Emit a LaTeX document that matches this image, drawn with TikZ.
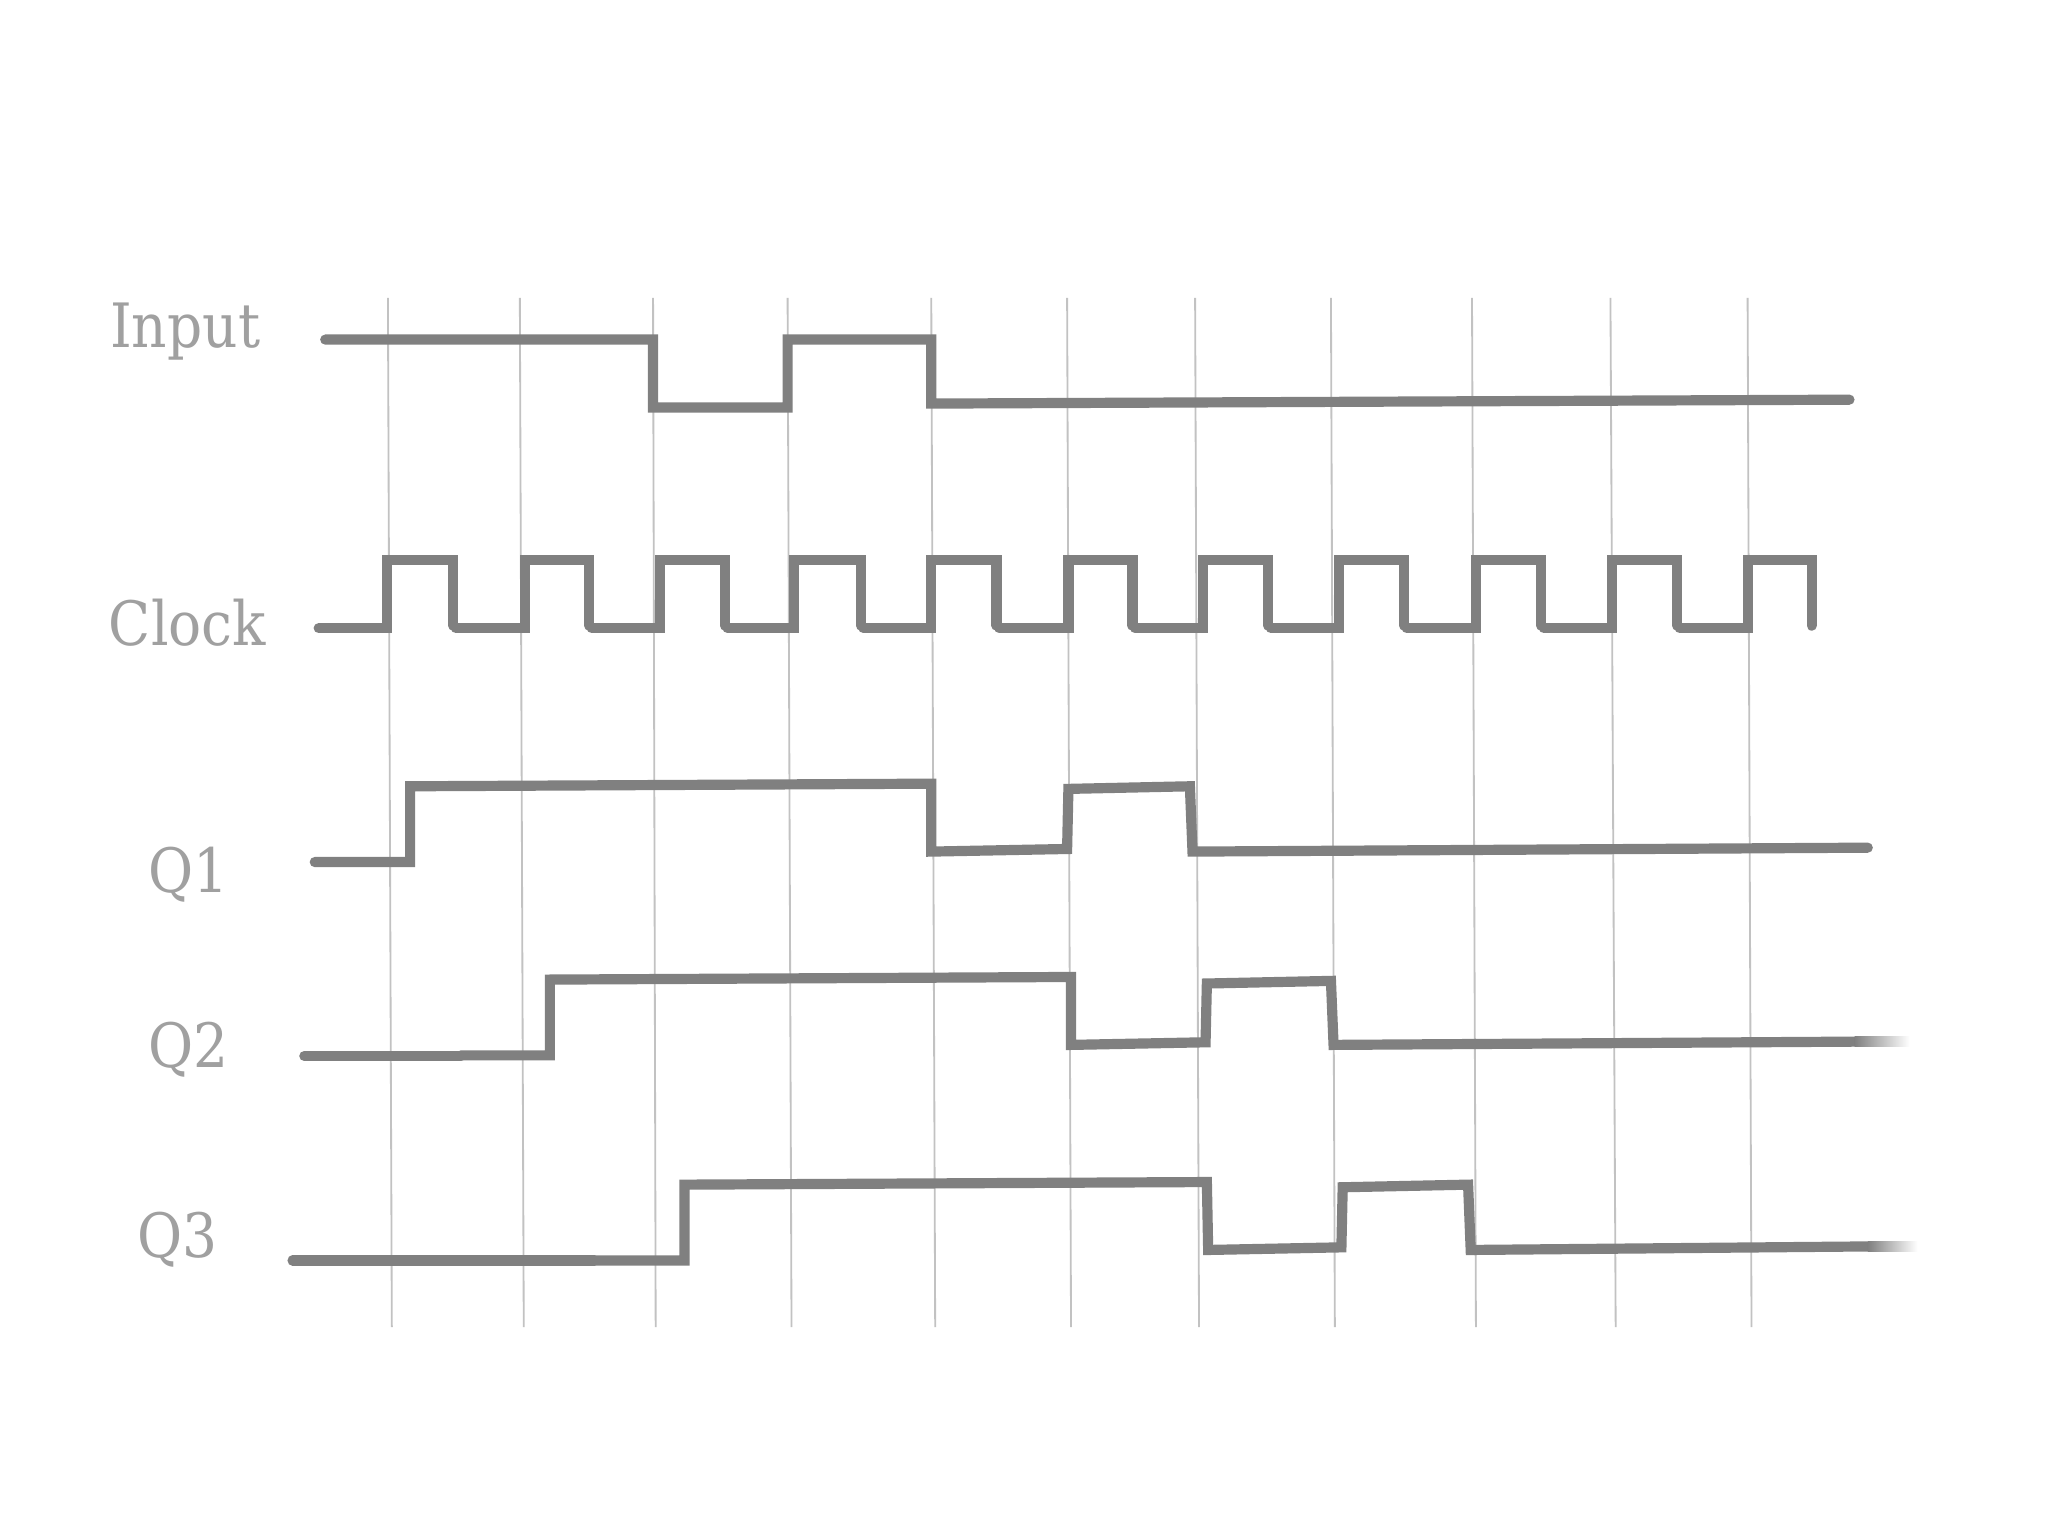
\documentclass[tikz,border=0pt]{standalone}
\usepackage{fontspec}
\setmainfont{DejaVu Serif}[FakeStretch=0.9]
\definecolor{wavec}{HTML}{808080}
\definecolor{gridc}{HTML}{C2C2C2}
\definecolor{labelc}{HTML}{A0A0A0}
\begin{document}
\begin{tikzpicture}[x=0.5bp,y=-0.5bp,
  wave/.style={draw=wavec, line width=3.9bp, line cap=round, line join=miter},
  gridl/.style={draw=gridc, line width=0.7bp},
  lbl/.style={text=labelc, font=\fontsize{23.5}{23.5}\selectfont, inner sep=0pt, anchor=base west}]
\useasboundingbox (0,0) rectangle (1568,1176);
\fill[white] (0,0) rectangle (1568,1176);
% grid lines
\foreach \a/\b in {297/300,398/401,500/502,603/606,713/716,817/820,915/918,1019/1022,1127/1130,1233/1237,1338/1341}
  \draw[gridl] (\a,228) -- (\b,1016);
% labels
\node[lbl] (input) at (84,266) {Input};
\node[lbl] (clock) at (83,494) {Clock};
\node[lbl] (q1) at (113,683) {Q1};
\node[lbl] (q2) at (113,817) {Q2};
\node[lbl] (q3) at (105,963) {Q3};
% Input
\draw[wave] (249,260) -- (500,260) -- (500,312) -- (603,312) -- (603,260) -- (713,260) -- (713,309) -- (1416,306);
% Clock
\draw[wave] (244,481) -- (296,481) -- (296,429) -- (347,429) -- (347,479);
\foreach \f/\r/\g in {347/402/451,451/505/555,555/608/659,659/713/763,763/818/867,867/921/971,971/1025/1075,1075/1130/1180,1180/1234/1284,1284/1338/1387}
  \draw[wave] (\f+2,481) -- (\r,481) -- (\r,429) -- (\g,429) -- (\g,479);
% Q1
\draw[wave] (241,660) -- (314,660) -- (314,602) -- (713,600) -- (713,652) -- (817,650) -- (818,604) -- (911,602) -- (913,652) -- (1430,649);
% Q2
\draw[wave] (233,808.5) -- (353,808.5);
\draw[wave] (353,808) -- (421,808) -- (421,750) -- (820,748) -- (820,800) -- (923,798) -- (924,753) -- (1019,751) -- (1021,800) -- (1420,797.5);
\shade[left color=wavec, right color=white] (1420,793.6) rectangle (1462,801.4);
% Q3
\draw[wave] (224,965) -- (455,965);
\draw[wave] (455,965) -- (524,965) -- (524,907) -- (924,905) -- (925,957) -- (1027,955) -- (1028,909) -- (1124,907) -- (1126,957) -- (1430,954.3);
\shade[left color=wavec, right color=white] (1430,950.4) rectangle (1468,958.2);
\end{tikzpicture}
\end{document}
